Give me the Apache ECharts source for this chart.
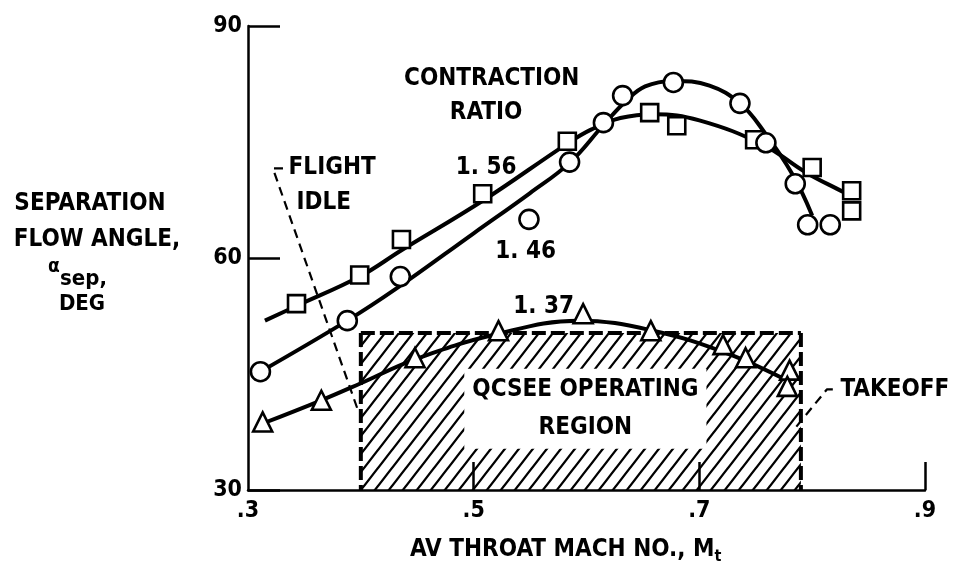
<!DOCTYPE html>
<html><head><meta charset="utf-8">
<script src="https://cdn.jsdelivr.net/npm/echarts@6/dist/echarts.min.js"></script>
<style>html,body{margin:0;padding:0;background:#fff}#c{width:957px;height:576px}</style>
</head><body><div id="c"></div>
<script>
// ---- data ----
const xTickValues = [0.3, 0.5, 0.7, 0.9];
const xInnerTicks = [0.5, 0.7, 0.9];
const yTickValues = [30, 60, 90];

// contraction ratio 1.56 (squares) and its faired curve
const squares156 = [[0.343,54.1],[0.399,57.8],[0.436,62.4],[0.508,68.3],[0.583,75.1],[0.656,78.8],[0.680,77.1],[0.749,75.3],[0.800,71.7],[0.835,68.7],[0.835,66.1]];
const curve156 = [[0.315,51.9],[0.343,53.8],[0.399,57.6],[0.436,61.0],[0.508,67.4],[0.583,74.8],[0.604,76.6],[0.630,78.1],[0.660,78.6],[0.700,77.8],[0.757,74.6],[0.794,71.1],[0.828,68.5],[0.838,67.7]];

// contraction ratio 1.46 (circles) and its faired curve
const circles146 = [[0.311,45.3],[0.388,51.9],[0.435,57.6],[0.549,65.0],[0.585,72.4],[0.615,77.5],[0.632,81.0],[0.677,82.7],[0.736,80.0],[0.759,74.9],[0.785,69.6],[0.796,64.3],[0.816,64.3]];
const curve146 = [[0.311,45.3],[0.388,51.9],[0.431,56.0],[0.500,63.2],[0.550,68.4],[0.585,72.3],[0.615,77.2],[0.635,80.3],[0.652,82.2],[0.677,82.9],[0.709,82.3],[0.736,80.0],[0.757,76.4],[0.783,70.7],[0.800,65.5]];

// contraction ratio 1.37 (triangles) and its faired curve
const triangles137 = [[0.313,38.8],[0.365,41.6],[0.448,47.1],[0.522,50.6],[0.597,52.8],[0.657,50.6],[0.721,48.8],[0.741,47.1],[0.780,45.5],[0.778,43.4]];
const curve137 = [[0.313,38.6],[0.365,41.6],[0.400,43.8],[0.448,46.9],[0.519,50.1],[0.593,51.9],[0.659,50.6],[0.724,47.7],[0.780,44.0]];

// QCSEE operating region [x0, x1, y0, y1]
const regionBox = [[0.40, 0.79, 30, 50.3]];
// leader lines
const flightIdleLine = [[0.331,71.6],[0.322,71.6],[0.397,40.5]];
const takeoffLine = [[0.786,38.2],[0.813,43.0],[0.822,43.0]];

// annotations [x, y, text]
const annotations = [
  [0.516, 83.2, 'CONTRACTION'],
  [0.511, 78.8, 'RATIO'],
  [0.511, 71.7, '1. 56'],
  [0.546, 60.8, '1. 46'],
  [0.562, 53.7, '1. 37']
];
const leftAnnotations = [
  [0.336, 71.7, 'FLIGHT'],
  [0.343, 67.2, 'IDLE'],
  [0.825, 43.0, 'TAKEOFF']
];
const regionText = [[0.599, 40.5, 'QCSEE OPERATING\nREGION']];

// ---- chart ----
const FONT = "'DejaVu Sans Condensed','Liberation Sans Narrow','DejaVu Sans',sans-serif";
const hatch = document.createElement('canvas');
hatch.width = 14; hatch.height = 18;
(function(){
  const g = hatch.getContext('2d');
  g.strokeStyle = '#000'; g.lineWidth = 2.3;
  g.beginPath();
  for (const dx of [-14, 0, 14]) { g.moveTo(dx - 2, 18 + 18/14*2); g.lineTo(dx + 14 + 2, -18/14*2); }
  g.stroke();
})();

const chart = echarts.init(document.getElementById('c'), null, {renderer: 'canvas'});
const markerStyle = {color: '#fff', borderColor: '#000', borderWidth: 2.6, opacity: 1};
const txt = {color: '#000', fontFamily: FONT, fontWeight: 'bold', fontSize: 24};
const gt = (x, y, text, size, align) => ({type: 'text', x: x, y: y,
  style: {text: text, fill: '#000', font: 'bold ' + size + 'px ' + FONT, textAlign: align || 'center', textVerticalAlign: 'middle'}});

chart.setOption({
  backgroundColor: '#fff',
  animation: false,
  grid: {left: 248, right: 32, top: 26, bottom: 86},
  xAxis: {
    type: 'value', min: 0.3, max: 0.9, interval: 0.1,
    splitLine: {show: false},
    axisLine: {show: true, lineStyle: {color: '#000', width: 2.5}},
    axisTick: {show: true, inside: true, length: 28, customValues: xInnerTicks, lineStyle: {color: '#000', width: 2.5}},
    axisLabel: {customValues: xTickValues, color: '#000', fontFamily: FONT, fontWeight: 'bold', fontSize: 23, margin: 10,
      formatter: v => '.' + Math.round(v * 10)}
  },
  yAxis: {
    type: 'value', min: 30, max: 90, interval: 30,
    splitLine: {show: false},
    axisLine: {show: true, lineStyle: {color: '#000', width: 2.5}},
    axisTick: {show: true, inside: true, length: 32, customValues: yTickValues, lineStyle: {color: '#000', width: 2.5}},
    axisLabel: {customValues: yTickValues, color: '#000', fontFamily: FONT, fontWeight: 'bold', fontSize: 23, margin: 6}
  },
  graphic: [
    gt(90, 204, 'SEPARATION', 24),
    gt(97, 240, 'FLOW ANGLE,', 24),
    gt(48, 267, 'α', 19, 'left'),
    gt(60, 279, 'sep,', 22, 'left'),
    gt(82, 304, 'DEG', 22),
    {type: 'text', x: 410, y: 535, style: {text: 'AV THROAT MACH NO., M{t|t}', fill: '#000', font: 'bold 24px ' + FONT,
      rich: {t: {fontSize: 16, fontFamily: FONT, fontWeight: 'bold', padding: [14, 0, 0, 0]}}}}
  ],
  series: [
    {
      type: 'custom', z: 1, data: regionBox,
      renderItem: (params, api) => {
        const a = api.coord([api.value(0), api.value(3)]);
        const b = api.coord([api.value(1), api.value(2)]);
        const dash = {stroke: '#000', lineWidth: 4, lineDash: [14, 5], fill: null};
        return {type: 'group', children: [
          {type: 'rect', shape: {x: a[0], y: a[1], width: b[0] - a[0], height: b[1] - a[1]},
           style: {fill: {image: hatch, repeat: 'repeat'}, stroke: null}},
          {type: 'line', shape: {x1: a[0], y1: a[1], x2: b[0], y2: a[1]}, style: dash},
          {type: 'line', shape: {x1: a[0], y1: a[1], x2: a[0], y2: b[1]}, style: dash},
          {type: 'line', shape: {x1: b[0], y1: a[1], x2: b[0], y2: b[1]}, style: dash}
        ]};
      }
    },
    {type: 'scatter', z: 2, data: regionText, symbolSize: 0, itemStyle: {opacity: 1},
     label: {show: true, position: 'inside', formatter: p => p.data[2], color: '#000', fontFamily: FONT, fontWeight: 'bold', fontSize: 24,
       lineHeight: 38, align: 'center', backgroundColor: '#fff', padding: [2, 8]}},
    {type: 'line', z: 3, data: curve156, smooth: 0.4, showSymbol: false, lineStyle: {color: '#000', width: 4}},
    {type: 'line', z: 3, data: curve146, smooth: 0.4, showSymbol: false, lineStyle: {color: '#000', width: 4}},
    {type: 'line', z: 3, data: curve137, smooth: 0.4, showSymbol: false, lineStyle: {color: '#000', width: 4}},
    {type: 'line', z: 3, data: flightIdleLine, showSymbol: false, lineStyle: {color: '#000', width: 2.2, type: [9, 6]}},
    {type: 'line', z: 3, data: takeoffLine, showSymbol: false, lineStyle: {color: '#000', width: 2.2, type: [9, 6]}},
    {type: 'scatter', z: 4, data: squares156, symbol: 'rect', symbolSize: 17, itemStyle: markerStyle},
    {type: 'scatter', z: 4, data: circles146, symbol: 'circle', symbolSize: 19, itemStyle: markerStyle},
    {type: 'scatter', z: 4, data: triangles137, symbol: 'triangle', symbolSize: 19, itemStyle: markerStyle},
    {type: 'scatter', z: 5, data: annotations, symbolSize: 0, itemStyle: {opacity: 1},
     label: {show: true, position: 'inside', formatter: p => p.data[2], ...txt}},
    {type: 'scatter', z: 5, data: leftAnnotations, symbolSize: 0, itemStyle: {opacity: 1},
     label: {show: true, position: 'right', distance: 0, formatter: p => p.data[2], ...txt}}
  ]
});
</script></body></html>
